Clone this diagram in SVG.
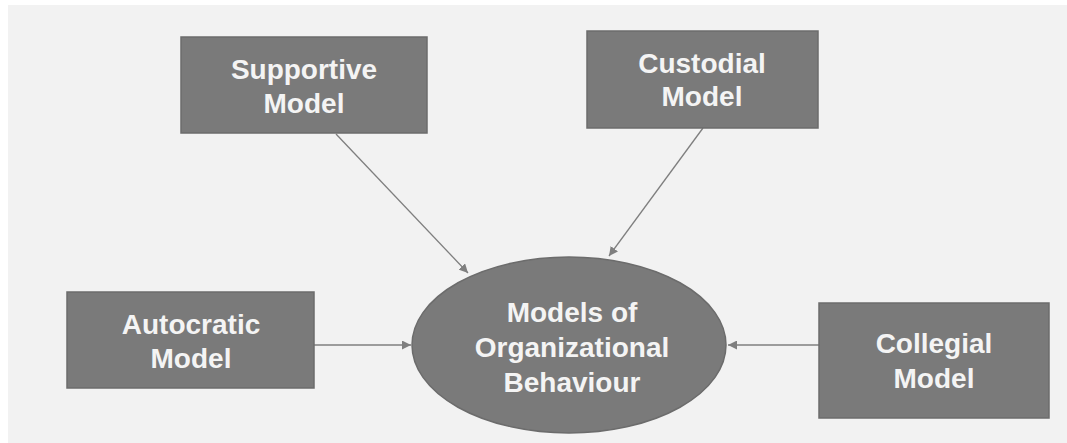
<svg xmlns="http://www.w3.org/2000/svg" width="1067" height="443" viewBox="0 0 1067 443">
<defs>
<style>
.box{fill:#7a7a7a;stroke:#6c6c6c;stroke-width:1.5}
.lbl{font-family:"Liberation Sans",Arial,sans-serif;font-weight:bold;font-size:28px;fill:#f4f4f4;text-anchor:middle}
.conn{stroke:#7f7f7f;stroke-width:1.3;fill:none;marker-end:url(#ah)}
</style>
<marker id="ah" viewBox="0 0 10 10" refX="10" refY="5" markerWidth="9" markerHeight="9" markerUnits="userSpaceOnUse" orient="auto">
<path d="M0,0 L10,5 L0,10 z" fill="#7f7f7f"/>
</marker>
</defs>
<rect x="0" y="0" width="1067" height="443" fill="#ffffff"/>
<rect x="8" y="5" width="1059" height="438" fill="#f2f2f2"/>
<g id="connectors">
<line class="conn" x1="336" y1="134" x2="468" y2="273"/>
<line class="conn" x1="703" y1="128" x2="609" y2="256"/>
<line class="conn" x1="314" y1="345" x2="411" y2="345"/>
<line class="conn" x1="819" y1="345" x2="728" y2="345"/>
</g>
<g id="supportive">
<rect class="box" x="181" y="37" width="246" height="96"/>
<text class="lbl" x="304" y="79">Supportive</text>
<text class="lbl" x="304" y="113">Model</text>
</g>
<g id="custodial">
<rect class="box" x="587" y="31" width="231" height="97"/>
<text class="lbl" x="702" y="73">Custodial</text>
<text class="lbl" x="702" y="106">Model</text>
</g>
<g id="autocratic">
<rect class="box" x="67" y="292" width="247" height="96"/>
<text class="lbl" x="191" y="334">Autocratic</text>
<text class="lbl" x="191" y="368">Model</text>
</g>
<g id="collegial">
<rect class="box" x="819" y="303" width="230" height="115"/>
<text class="lbl" x="934" y="353">Collegial</text>
<text class="lbl" x="934" y="388">Model</text>
</g>
<g id="center">
<ellipse class="box" cx="569" cy="345" rx="157" ry="88"/>
<text class="lbl" x="572" y="322">Models of</text>
<text class="lbl" x="572" y="357">Organizational</text>
<text class="lbl" x="572" y="392">Behaviour</text>
</g>
</svg>
